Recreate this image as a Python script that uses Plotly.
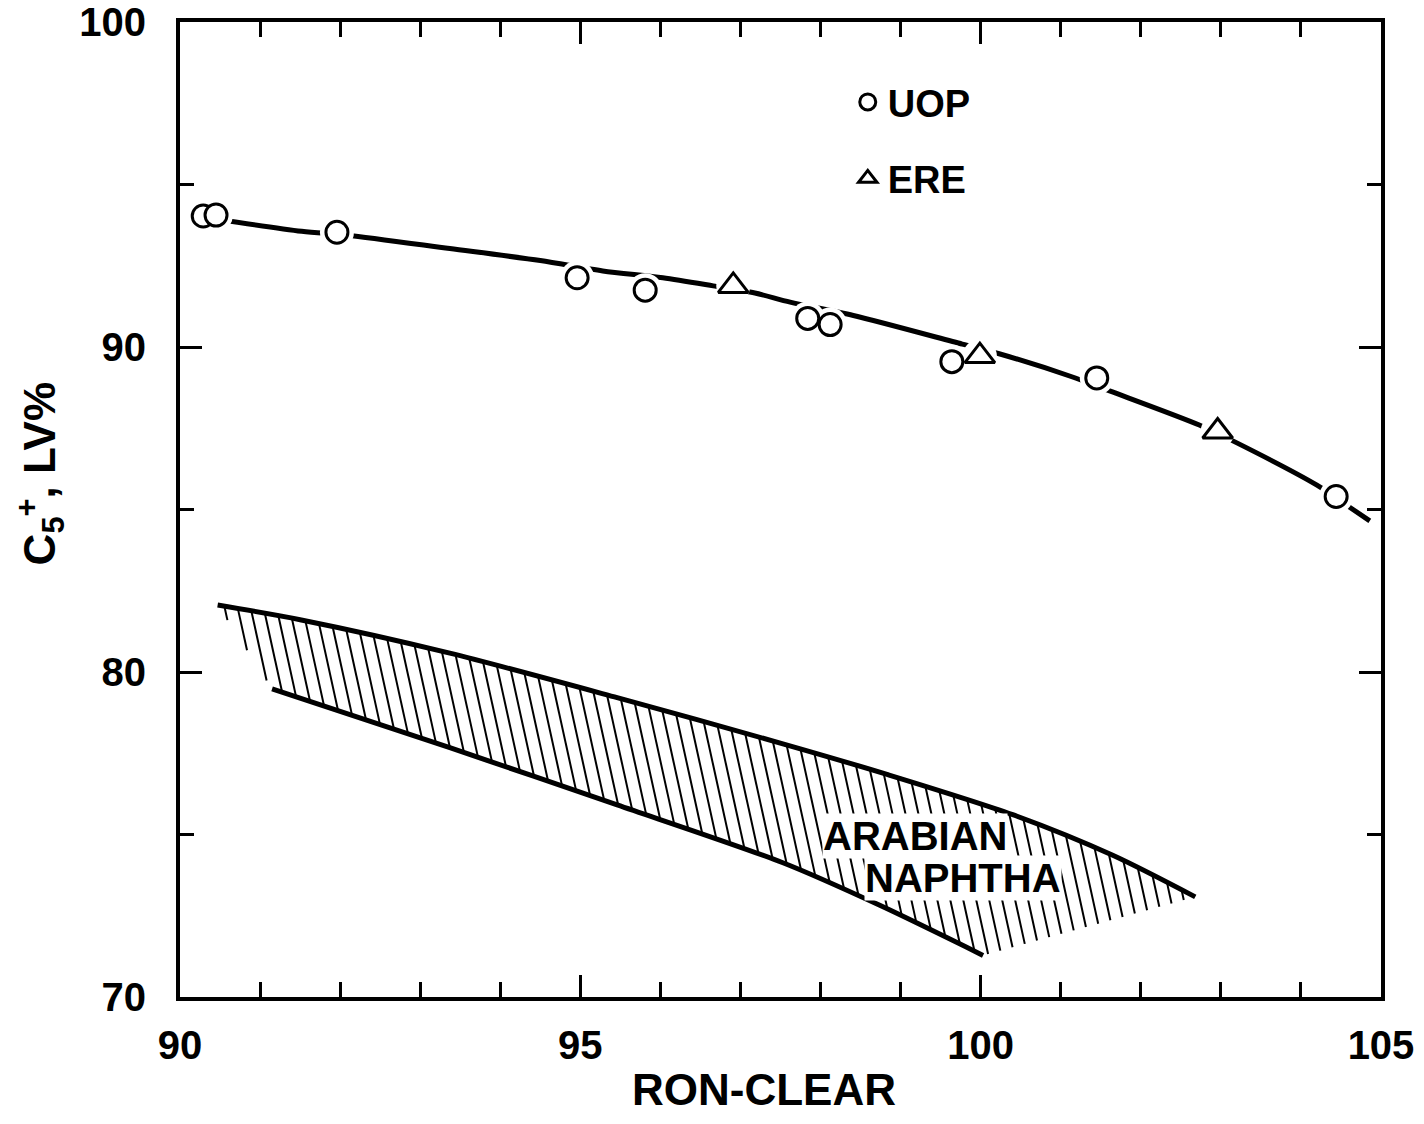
import numpy as np
import plotly.graph_objects as go

# ---- data ----
UOP_X = [90.29, 90.45, 91.96, 94.96, 95.81, 97.84, 98.12, 99.64, 101.45, 104.44]
UOP_Y = [94.03, 94.06, 93.53, 92.13, 91.75, 90.88, 90.69, 89.55, 89.05, 85.40]

ERE_X = [96.91, 99.99, 102.96]
ERE_Y = [91.88, 89.72, 87.40]

CURVE_X = [90.45, 91.52, 92.09, 93.37, 94.50, 95.28, 96.03, 96.66, 97.18, 97.62,
           98.41, 99.77, 100.22, 101.12, 101.61, 102.73, 103.20, 104.20, 104.59, 104.86]
CURVE_Y = [93.94, 93.56, 93.44, 93.03, 92.66, 92.34, 92.13, 91.88, 91.66, 91.38,
           90.97, 90.09, 89.80, 89.10, 88.65, 87.60, 87.05, 85.75, 85.10, 84.65]

NAPHTHA_UPPER_X = [90.47, 91.50, 93.37, 95.46, 97.53, 98.83, 100.40, 101.65, 102.68]
NAPHTHA_UPPER_Y = [82.06, 81.61, 80.58, 79.21, 77.79, 76.85, 75.61, 74.36, 73.08]

NAPHTHA_LOWER_X = [91.15, 93.37, 95.46, 97.53, 98.74, 100.03]
NAPHTHA_LOWER_Y = [79.48, 77.67, 75.91, 74.13, 72.82, 71.28]

X_RANGE = [90, 105]
Y_RANGE = [70, 100]

FONT = "Liberation Sans"


def hatch_lines(ux, uy, lx, ly, k, step):
    """Slanted hatch lines clipped to the polygon upper(L->R) + lower(R->L)."""
    P = np.array(list(zip(ux, uy)) + list(zip(lx[::-1], ly[::-1])), dtype=float)
    n = len(P)
    u = P[:, 0] + k * P[:, 1]
    xs, ys = [], []
    for c in np.arange(u.min() + step / 2, u.max(), step):
        pts = []
        for i in range(n):
            j = (i + 1) % n
            if (u[i] - c) * (u[j] - c) < 0:
                t = (c - u[i]) / (u[j] - u[i])
                pts.append(P[i] + t * (P[j] - P[i]))
        pts.sort(key=lambda p: -p[1])
        for a in range(0, len(pts) - 1, 2):
            xs += [pts[a][0], pts[a + 1][0], None]
            ys += [pts[a][1], pts[a + 1][1], None]
    return xs, ys


hx, hy = hatch_lines(NAPHTHA_UPPER_X, NAPHTHA_UPPER_Y, NAPHTHA_LOWER_X, NAPHTHA_LOWER_Y,
                     k=0.089, step=0.162)

fig = go.Figure()

fig.add_trace(go.Scatter(x=hx, y=hy, mode="lines", line=dict(color="black", width=2),
                         showlegend=False, hoverinfo="skip"))
fig.add_trace(go.Scatter(x=NAPHTHA_UPPER_X, y=NAPHTHA_UPPER_Y, mode="lines",
                         line=dict(color="black", width=5, shape="spline", smoothing=0.8),
                         showlegend=False))
fig.add_trace(go.Scatter(x=NAPHTHA_LOWER_X, y=NAPHTHA_LOWER_Y, mode="lines",
                         line=dict(color="black", width=5, shape="spline", smoothing=0.8),
                         showlegend=False))

fig.add_trace(go.Scatter(x=CURVE_X, y=CURVE_Y, mode="lines",
                         line=dict(color="black", width=5, shape="spline", smoothing=0.8),
                         showlegend=False))
# white halos that break the curve around each symbol
fig.add_trace(go.Scatter(x=UOP_X + ERE_X, y=UOP_Y + ERE_Y, mode="markers",
                         marker=dict(symbol="circle", size=34, color="white", line=dict(width=0)),
                         showlegend=False, hoverinfo="skip"))
fig.add_trace(go.Scatter(x=UOP_X, y=UOP_Y, mode="markers", name="UOP", legendgroup="a",
                         marker=dict(symbol="circle", size=22, color="white",
                                     line=dict(color="black", width=3))))
fig.add_trace(go.Scatter(x=ERE_X, y=ERE_Y, mode="markers", name="ERE", legendgroup="b",
                         marker=dict(symbol="triangle-up", size=26, color="white",
                                     line=dict(color="black", width=3))))

axis_common = dict(showline=True, linewidth=4, linecolor="black", mirror="allticks",
                   showgrid=False, zeroline=False, ticks="inside", tickwidth=3,
                   tickcolor="black", ticklen=22, automargin=False,
                   ticklabeloverflow="allow",
                   tickfont=dict(family=FONT, size=40, color="black", weight="bold"))

fig.update_xaxes(range=X_RANGE, tick0=90, dtick=5, ticklabelstandoff=10,
                 minor=dict(dtick=1, ticks="inside", ticklen=15, tickwidth=3, tickcolor="black"),
                 **axis_common)
fig.update_yaxes(range=Y_RANGE, tick0=70, dtick=10, ticklabelstandoff=22,
                 minor=dict(dtick=5, ticks="inside", ticklen=14, tickwidth=3, tickcolor="black"),
                 **axis_common)

fig.add_annotation(text="RON-CLEAR", xref="paper", yref="paper", x=0.486, y=-0.0944,
                   xanchor="center", yanchor="middle", showarrow=False,
                   font=dict(family=FONT, size=44, color="black", weight="bold"))
fig.add_annotation(text="C<sub>5</sub><sup>+</sup>, LV%", xref="paper", yref="paper",
                   x=-0.1166, y=0.537, textangle=-90, xanchor="center", yanchor="middle",
                   showarrow=False, font=dict(family=FONT, size=44, color="black", weight="bold"))
fig.add_annotation(text="ARABIAN", x=99.18, y=74.95, xanchor="center", yanchor="middle",
                   showarrow=False, bgcolor="white", borderpad=0,
                   font=dict(family=FONT, size=40, color="black", weight="bold"))
fig.add_annotation(text="NAPHTHA", x=99.78, y=73.65, xanchor="center", yanchor="middle",
                   showarrow=False, bgcolor="white", borderpad=0,
                   font=dict(family=FONT, size=40, color="black", weight="bold"))

fig.update_layout(
    width=1424, height=1124,
    margin=dict(l=180, r=43, t=22, b=127, autoexpand=False),
    plot_bgcolor="white", paper_bgcolor="white",
    legend=dict(x=0.556, y=0.950, xanchor="left", yanchor="top",
                bgcolor="rgba(0,0,0,0)", tracegroupgap=24, traceorder="grouped",
                font=dict(family=FONT, size=38, color="black", weight="bold")),
)

# remove the page's default 8px body margin so the figure sits at the window origin
fig.write_html("out.html", config={"displayModeBar": False},
               post_script="document.body.style.margin='0px';")
